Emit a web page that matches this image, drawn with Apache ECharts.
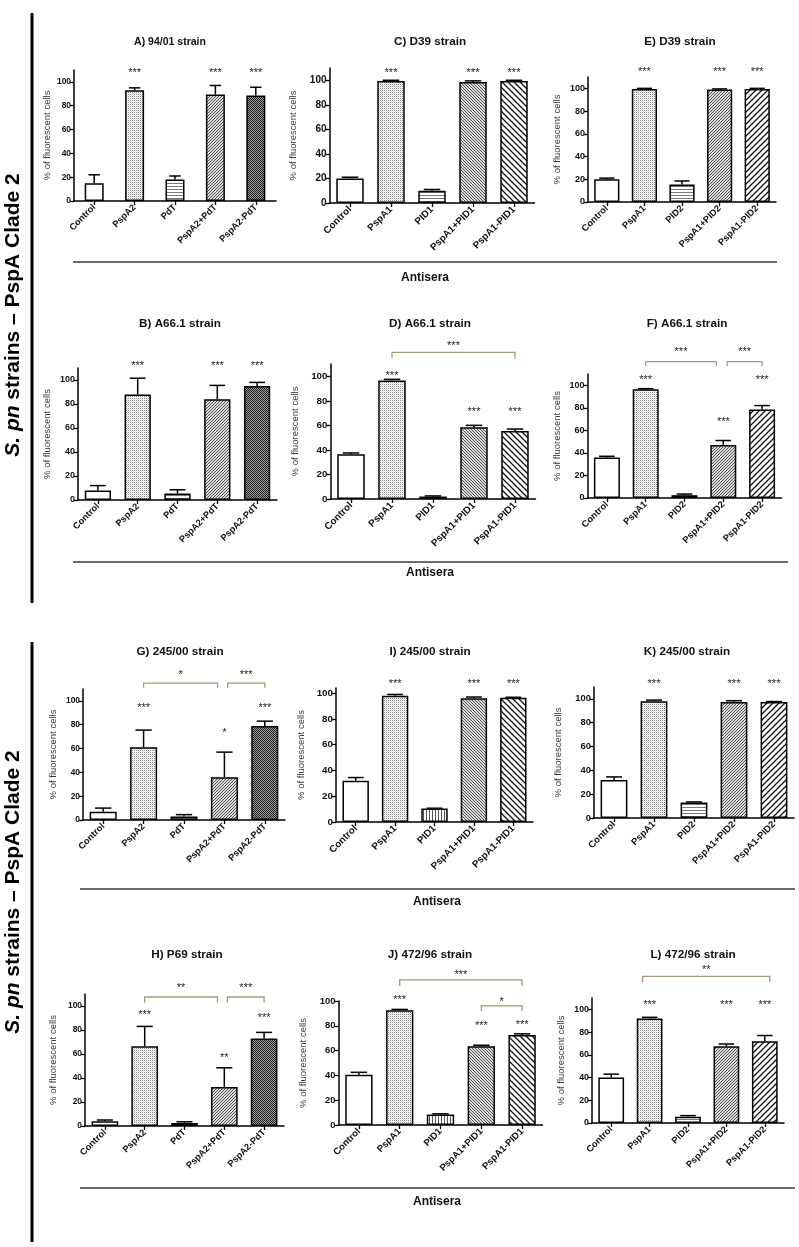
<!DOCTYPE html>
<html><head><meta charset="utf-8">
<script src="https://cdn.jsdelivr.net/npm/echarts@6/dist/echarts.min.js"></script>
<style>html,body{margin:0;padding:0;background:#fff}#c{width:799px;height:1247px}</style>
</head><body><div id="c"></div><script>
const FONT = 'Arial, "Liberation Sans", Helvetica, sans-serif';

// ---------- DATA ----------
const catsPspA2 = ['Control', 'PspA2', 'PdT', 'PspA2+PdT', 'PspA2-PdT'];
const catsPID1 = ['Control', 'PspA1', 'PID1', 'PspA1+PID1', 'PspA1-PID1'];
const catsPID2 = ['Control', 'PspA1', 'PID2', 'PspA1+PID2', 'PspA1-PID2'];
const yTicks = [0, 20, 40, 60, 80, 100];
const yName = '% of fluorescent cells';
const xName = 'Antisera';

const titles = {A:'A) 94/01 strain', B:'B) A66.1 strain', C:'C) D39 strain', D:'D) A66.1 strain',
  E:'E) D39 strain', F:'F) A66.1 strain', G:'G) 245/00 strain', H:'H) P69 strain',
  I:'I) 245/00 strain', J:'J) 472/96 strain', K:'K) 245/00 strain', L:'L) 472/96 strain'};

// mean values and top of (upper) error bar
const meanA = [15, 93, 18, 89.5, 88.5];   const topA = [22, 95, 21, 97, 95.5];
const meanB = [8, 88, 5.5, 84, 95];       const topB = [12, 101.5, 8.5, 95.5, 98];
const meanC = [20, 99.5, 10, 98.5, 99.5]; const topC = [21, 100, 11, 99.5, 100];
const meanD = [36.5, 96.5, 2, 58.5, 55.5]; const topD = [37.5, 97.5, 2.5, 60, 57];
const meanE = [20, 99.5, 15.5, 99, 99.5]; const topE = [21, 100, 18.5, 99.5, 100];
const meanF = [36, 96.5, 2.5, 47, 78.5];  const topF = [37, 97, 3.5, 51, 82];
const meanG = [7, 61, 3, 36, 79];         const topG = [10, 75.5, 4.5, 57, 83];
const meanH = [4, 66.5, 2.5, 32.5, 73];   const topH = [5, 83, 3.5, 48.5, 78];
const meanI = [32, 98, 10.5, 96, 96.5];   const topI = [34.5, 99, 10.7, 97, 96.8];
const meanJ = [40.5, 92.5, 8.5, 63.5, 72.5]; const topJ = [42.5, 93.2, 9, 64.3, 73.5];
const meanK = [32, 98, 13, 97.5, 97.5];   const topK = [34.5, 99, 13.5, 98.5, 97.8];
const meanL = [40, 92, 5.5, 67.5, 72];    const topL = [43, 93, 6.5, 69.5, 77];

// significance marks (text, y value)
const starsStd = ['', '***', '', '***', '***'];
const starsG = ['', '***', '', '*', '***'];
const starsH = ['', '***', '', '**', '***'];
const starYA = [null, 110, null, 110, 110];
const starYB = [null, 114, null, 114, 114];
const starYC = [null, 108, null, 108, 108];
const starYD = [null, 102.5, null, 73, 73];
const starYE = [null, 116.5, null, 116.5, 116.5];
const starYF = [null, 107, null, 70, 107];
const starYG = [null, 96, null, 75.5, 96];
const starYH = [null, 95, null, 59, 92];
const starYI = [null, 109, null, 109, 109];
const starYJ = [null, 103, null, 82, 83];
const starYK = [null, 115, null, 115, 115];
const starYL = [null, 106, null, 106, 106];

// brackets: [from category, to category, top y, end y, label, label y]
const bracketsD = [[1, 4, 119.5, 114.5, '***', 127]];
const bracketsF = [[1, 2.82, 121, 117, '***', 132], [3.1, 4, 121, 117, '***', 132]];
const bracketsG = [[1, 2.83, 115, 111, '*', 123.5], [3.08, 4, 115, 111, '***', 123.5]];
const bracketsH = [[1, 2.83, 107.5, 103, '**', 116.7], [3.08, 4, 107.5, 103, '***', 116.7]];
const bracketsJ = [[1, 4, 117, 112, '***', 123.4], [3, 4, 96, 92, '*', 101.6]];
const bracketsL = [[0.82, 4.13, 129, 124, '**', 137]];

// ---------- STYLE / LAYOUT ----------
const fillsA = ['white', 'dots', 'hlines', 'fineFwd', 'checker'];
const fillsG = ['white', 'dots', 'gray', 'fineFwd', 'checker'];
const fillsC = ['white', 'dots', 'hlines', 'fineBack', 'wideBack'];
const fillsE = ['white', 'dots', 'hlines', 'fineFwd', 'wideFwd'];
const fillsF = ['white', 'dots', 'gray', 'fineFwd', 'wideFwd'];
const fillsI = ['white', 'dots', 'vlines', 'fineBack', 'wideBack'];

const panels = [
  {id:'A', cats:catsPspA2, mean:meanA, top:topA, stars:starsStd, starY:starYA, br:[], fills:fillsA,
   g:[74, 70, 202, 131], max:110, t:[170, 42, 10.5], tick:8.4, xl:9.2, ng:22, gap:'53%'},
  {id:'B', cats:catsPspA2, mean:meanB, top:topB, stars:starsStd, starY:starYB, br:[], fills:fillsA,
   g:[78, 368, 199, 132], max:110, t:[180, 324, 11.7], tick:9, xl:9.2, ng:26, gap:'34%'},
  {id:'C', cats:catsPID1, mean:meanC, top:topC, stars:starsStd, starY:starYC, br:[], fills:fillsC,
   g:[329.5, 68, 205, 135], max:110, t:[430, 42, 11.7], tick:10, xl:9.8, ng:31.5, gap:'33%'},
  {id:'D', cats:catsPID1, mean:meanD, top:topD, stars:starsStd, starY:starYD, br:bracketsD, fills:fillsC,
   g:[330.5, 364, 205, 135], max:110, t:[430, 324, 11.7], tick:9.8, xl:9.8, ng:30.5, gap:'33%'},
  {id:'E', cats:catsPID2, mean:meanE, top:topE, stars:starsStd, starY:starYE, br:[], fills:fillsE,
   g:[588, 77, 188, 125], max:110, t:[680, 42, 11.7], tick:9, xl:9.3, ng:26, gap:'33%'},
  {id:'F', cats:catsPID2, mean:meanF, top:topF, stars:starsStd, starY:starYF, br:bracketsF, fills:fillsF,
   g:[587.5, 374, 194, 124], max:110, t:[687, 324, 11.7], tick:9, xl:9.3, ng:25.5, gap:'33%'},
  {id:'G', cats:catsPspA2, mean:meanG, top:topG, stars:starsG, starY:starYG, br:bracketsG, fills:fillsG,
   g:[83, 689, 202, 131], max:110, t:[180, 652, 11.7], tick:8.4, xl:9.2, ng:25, gap:'33%'},
  {id:'I', cats:catsPID1, mean:meanI, top:topI, stars:starsStd, starY:starYI, br:[], fills:fillsI,
   g:[336, 688, 197, 134], max:104, t:[430, 652, 11.7], tick:9.8, xl:9.8, ng:30, gap:'33%'},
  {id:'K', cats:catsPID2, mean:meanK, top:topK, stars:starsStd, starY:starYK, br:[], fills:fillsE,
   g:[594, 687, 200, 131], max:110, t:[687, 652, 11.7], tick:9.4, xl:9.5, ng:31, gap:'33%'},
  {id:'H', cats:catsPspA2, mean:meanH, top:topH, stars:starsH, starY:starYH, br:bracketsH, fills:fillsG,
   g:[85, 994, 199, 132], max:110, t:[187, 955, 11.7], tick:8.4, xl:9.2, ng:27, gap:'33%'},
  {id:'J', cats:catsPID1, mean:meanJ, top:topJ, stars:starsStd, starY:starYJ, br:bracketsJ, fills:fillsI,
   g:[338.5, 1001, 204, 124], max:100, t:[430, 955, 11.7], tick:9.4, xl:9.5, ng:30.5, gap:'33%'},
  {id:'L', cats:catsPID2, mean:meanL, top:topL, stars:starsStd, starY:starYL, br:bracketsL, fills:fillsE,
   g:[592, 998, 192, 125], max:110, t:[693, 955, 11.7], tick:8.8, xl:9.2, ng:26, gap:'33%'}
];

// ---------- PATTERNS ----------
const PAT = {};
function makePattern(kind) {
  if (kind === 'white') return '#ffffff';
  if (kind === 'gray') return '#8c8c8c';
  const c = document.createElement('canvas');
  const ctx = c.getContext('2d');
  const px = (x, y, col) => { ctx.fillStyle = col; ctx.fillRect(x, y, 1, 1); };
  let s;
  if (kind === 'dots') {
    s = 2; c.width = c.height = s; ctx.fillStyle = '#fff'; ctx.fillRect(0, 0, s, s);
    px(0, 0, '#8a8a8a'); px(1, 1, '#dcdcdc');
  } else if (kind === 'hlines') {
    s = 3; c.width = c.height = s; ctx.fillStyle = '#fff'; ctx.fillRect(0, 0, s, s);
    ctx.fillStyle = '#7a7a7a'; ctx.fillRect(0, 0, s, 1);
  } else if (kind === 'vlines') {
    s = 3; c.width = c.height = s; ctx.fillStyle = '#fff'; ctx.fillRect(0, 0, s, s);
    ctx.fillStyle = '#555'; ctx.fillRect(0, 0, 1, s);
  } else if (kind === 'fineFwd' || kind === 'fineBack') {
    s = 3; c.width = c.height = s; ctx.fillStyle = '#dadada'; ctx.fillRect(0, 0, s, s);
    for (let i = 0; i < s; i++) px(kind === 'fineFwd' ? s - 1 - i : i, i, '#555');
  } else if (kind === 'checker') {
    s = 2; c.width = c.height = s; ctx.fillStyle = '#9a9a9a'; ctx.fillRect(0, 0, s, s);
    px(0, 0, '#202020'); px(1, 1, '#202020');
  } else if (kind === 'wideFwd' || kind === 'wideBack') {
    s = 6; c.width = c.height = s; ctx.fillStyle = '#fff'; ctx.fillRect(0, 0, s, s);
    ctx.strokeStyle = '#111'; ctx.lineWidth = 1.3; ctx.beginPath();
    if (kind === 'wideFwd') {
      ctx.moveTo(0, s); ctx.lineTo(s, 0);
      ctx.moveTo(-1, 1); ctx.lineTo(1, -1);
      ctx.moveTo(s - 1, s + 1); ctx.lineTo(s + 1, s - 1);
    } else {
      ctx.moveTo(0, 0); ctx.lineTo(s, s);
      ctx.moveTo(-1, s - 1); ctx.lineTo(1, s + 1);
      ctx.moveTo(s - 1, -1); ctx.lineTo(s + 1, 1);
    }
    ctx.stroke();
  }
  return { image: c, repeat: 'repeat' };
}
function pat(k) { if (!(k in PAT)) PAT[k] = makePattern(k); return PAT[k]; }

// ---------- BUILD ----------
const grids = [], xAxes = [], yAxes = [], series = [], graphics = [];
const BR_COLOR = '#a39b78';

function fx(api, v, y) {
  const b = Math.floor(v);
  const p = api.coord([b, y]);
  return p[0] + (v - b) * api.size([1, 0])[0];
}

panels.forEach((p, k) => {
  grids.push({ left: p.g[0], top: p.g[1], width: p.g[2], height: p.g[3], containLabel: false });
  xAxes.push({
    type: 'category', gridIndex: k, data: p.cats,
    axisLine: { show: true, lineStyle: { color: '#000', width: 1.5 } },
    axisTick: { show: true, alignWithLabel: true, length: 4, lineStyle: { color: '#000', width: 1.3 } },
    axisLabel: { rotate: 45, interval: 0, margin: 5, fontSize: p.xl, fontWeight: 'bold', color: '#111', fontFamily: FONT },
    splitLine: { show: false }
  });
  yAxes.push({
    type: 'value', gridIndex: k, min: 0, max: p.max, interval: 20,
    axisLine: { show: true, lineStyle: { color: '#000', width: 1.5 } },
    axisTick: { show: true, length: 4, customValues: yTicks, lineStyle: { color: '#000', width: 1.3 } },
    axisLabel: { customValues: yTicks, margin: 3, fontSize: p.tick, fontWeight: 'bold', color: '#111', fontFamily: FONT },
    splitLine: { show: false },
    name: yName, nameLocation: 'middle', nameGap: p.ng,
    nameTextStyle: { fontSize: 9.5, color: '#3a3a3a', fontFamily: FONT }
  });
  // bars
  series.push({
    type: 'bar', xAxisIndex: k, yAxisIndex: k, barCategoryGap: p.gap, z: 2,
    data: p.mean.map((v, i) => ({ value: v, itemStyle: { color: pat(p.fills[i]) } })),
    itemStyle: { borderColor: '#000', borderWidth: 1.5 },
    emphasis: { disabled: true }, animation: false
  });
  // error bars (upper only)
  const gapFrac = parseFloat(p.gap) / 100;
  series.push({
    type: 'custom', xAxisIndex: k, yAxisIndex: k, z: 3, animation: false,
    data: p.mean.map((v, i) => [i, p.top[i]]),
    renderItem: (params, api) => {
      const i = params.dataIndex;
      const p0 = api.coord([i, p.mean[i]]);
      const p1 = api.coord([i, p.top[i]]);
      const bw = api.size([1, 0])[0] * (1 - gapFrac);
      const half = bw * 0.3;
      const st = { stroke: '#000', lineWidth: 1.5 };
      return { type: 'group', children: [
        { type: 'line', shape: { x1: p0[0], y1: p0[1], x2: p1[0], y2: p1[1] }, style: st },
        { type: 'line', shape: { x1: p1[0] - half, y1: p1[1], x2: p1[0] + half, y2: p1[1] }, style: st }
      ] };
    }
  });
  // significance stars
  const starList = [];
  p.stars.forEach((s, i) => { if (s) starList.push({ i: i, y: p.starY[i], t: s }); });
  series.push({
    type: 'custom', xAxisIndex: k, yAxisIndex: k, z: 4, animation: false, clip: false,
    data: starList.map(o => [o.i, o.y]),
    renderItem: (params, api) => {
      const o = starList[params.dataIndex];
      const c = api.coord([o.i, o.y]);
      return { type: 'text', x: c[0], y: c[1] + 2.5,
        style: { text: o.t, fontSize: 11, fontFamily: FONT, fill: '#222', align: 'center', verticalAlign: 'middle' } };
    }
  });
  // comparison brackets
  if (p.br.length) {
    series.push({
      type: 'custom', xAxisIndex: k, yAxisIndex: k, z: 4, animation: false, clip: false,
      data: p.br.map(b => [Math.floor(b[0]), b[2]]),
      renderItem: (params, api) => {
        const b = p.br[params.dataIndex];
        const x0 = fx(api, b[0], b[2]);
        const x1 = fx(api, b[1], b[2]);
        const yT = api.coord([0, b[2]])[1];
        const yE = api.coord([0, b[3]])[1];
        const yL = api.coord([0, b[5]])[1];
        const st = { stroke: BR_COLOR, lineWidth: 1.3, fill: 'none' };
        return { type: 'group', children: [
          { type: 'polyline', shape: { points: [[x0, yE], [x0, yT], [x1, yT], [x1, yE]] }, style: st },
          { type: 'text', x: (x0 + x1) / 2, y: yL + 2.5,
            style: { text: b[4], fontSize: 11, fontFamily: FONT, fill: '#222', align: 'center', verticalAlign: 'middle' } }
        ] };
      }
    });
  }
  // panel title
  graphics.push({ type: 'text', x: p.t[0], y: p.t[1],
    style: { text: titles[p.id], fontSize: p.t[2], fontWeight: 'bold', fontFamily: FONT, fill: '#111', align: 'center', verticalAlign: 'middle' } });
});

// separators, "Antisera" labels
const sepLines = [[73, 777, 262], [73, 788, 562], [80, 795, 889], [80, 795, 1188]];
const antiseraPos = [[425, 278], [430, 573], [437, 902], [437, 1202]];
sepLines.forEach(l => graphics.push({ type: 'line', shape: { x1: l[0], y1: l[2], x2: l[1], y2: l[2] }, style: { stroke: '#3a3a3a', lineWidth: 1.3 } }));
antiseraPos.forEach(a => graphics.push({ type: 'text', x: a[0], y: a[1],
  style: { text: xName, fontSize: 12, fontWeight: 'bold', fontFamily: FONT, fill: '#111', align: 'center', verticalAlign: 'middle' } }));

// left group brackets and side labels
[[13, 603], [642, 1242]].forEach(v => graphics.push({ type: 'line', shape: { x1: 32, y1: v[0], x2: 32, y2: v[1] }, style: { stroke: '#000', lineWidth: 3 } }));
[315, 892].forEach(cy => graphics.push({ type: 'text', x: 13, y: cy, rotation: Math.PI / 2,
  style: { text: '{i|S. pn} strains \u2013 PspA Clade 2', fontSize: 21, fontWeight: 'bold', fontFamily: FONT, fill: '#000',
    align: 'center', verticalAlign: 'middle',
    rich: { i: { fontStyle: 'italic', fontSize: 21, fontWeight: 'bold', fontFamily: FONT, fill: '#000' } } } }));

const chart = echarts.init(document.getElementById('c'), null, { renderer: 'canvas' });
chart.setOption({
  backgroundColor: '#fff',
  animation: false,
  textStyle: { fontFamily: FONT },
  grid: grids, xAxis: xAxes, yAxis: yAxes, series: series,
  graphic: { elements: graphics }
});
</script></body></html>
